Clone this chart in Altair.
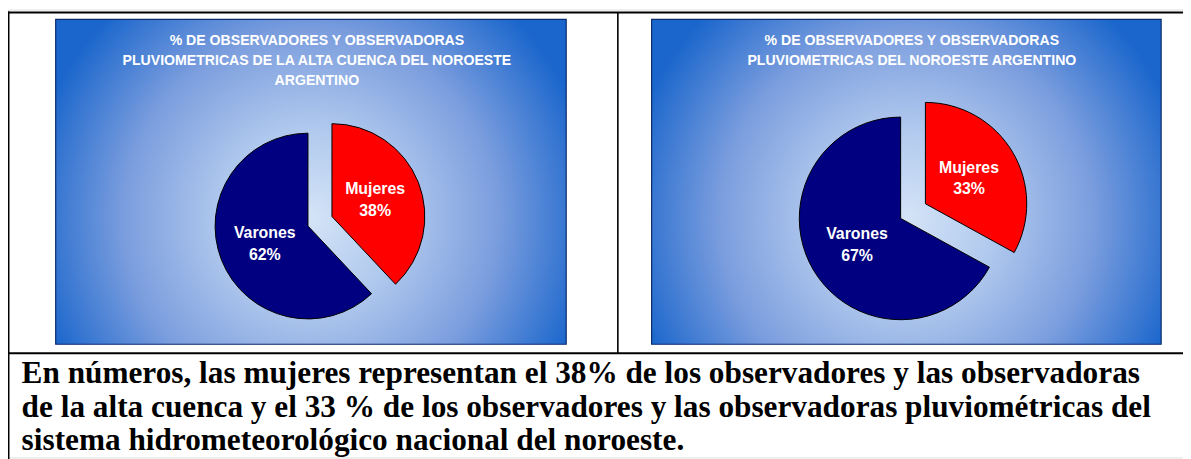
import altair as alt
import pandas as pd

# ---- data ----
categories = ["Mujeres", "Varones"]
alta_cuenca_pct = [38, 62]
noroeste_pct = [33, 67]
title_alta = ["% DE OBSERVADORES Y OBSERVADORAS",
              "PLUVIOMETRICAS DE LA ALTA CUENCA DEL NOROESTE",
              "ARGENTINO"]
title_noa = ["% DE OBSERVADORES Y OBSERVADORAS",
             "PLUVIOMETRICAS DEL NOROESTE ARGENTINO"]
paragraph = ["En números, las mujeres representan el 38% de los observadores y las observadoras",
             "de la alta cuenca y el 33 % de los observadores y las observadoras pluviométricas del",
             "sistema hidrometeorológico nacional del noroeste."]
slice_colors = ["#FF0000", "#000080"]
exploded = "Mujeres"

W, H = 1183, 451
one = pd.DataFrame({"k": [0]})

grad = alt.RadialGradient(
    gradient="radial", x1=0.5, y1=0.57, x2=0.5, y2=0.57, r1=0, r2=0.56,
    stops=[alt.GradientStop(color="#D4E4F7", offset=0),
           alt.GradientStop(color="#B2CAEE", offset=0.3),
           alt.GradientStop(color="#7C9EDE", offset=0.65),
           alt.GradientStop(color="#1A66CC", offset=1)])


def rule(x1, y1, x2, y2, w=2):
    return alt.Chart(one).mark_rule(color="black", strokeWidth=w).encode(
        x=alt.value(x1), y=alt.value(y1), x2=alt.value(x2), y2=alt.value(y2))


def panel(x1, x2):
    return alt.Chart(one).mark_rect(fill=grad, stroke="#0B2B6B", strokeWidth=1.2).encode(
        x=alt.value(x1), x2=alt.value(x2), y=alt.value(10), y2=alt.value(337))


def title(lines, cx):
    df = pd.DataFrame({"t": ["\n".join(lines)]})
    return alt.Chart(df).mark_text(
        lineBreak="\n", lineHeight=20, font="Liberation Sans", fontWeight="bold",
        fontSize=14.2, color="white", align="center", baseline="alphabetic"
    ).encode(text="t:N", x=alt.value(cx), y=alt.value(36))


def pie(values, cx, cy, r, explode):
    df = pd.DataFrame({"cat": categories, "value": values,
                       "order": list(range(len(values)))})
    base = alt.Chart(df).transform_joinaggregate(
        total="sum(value)"
    ).transform_window(
        cum="sum(value)", sort=[alt.SortField("order")], frame=[None, 0]
    ).transform_calculate(
        a0="2*PI*(datum.cum - datum.value)/datum.total",
        a1="2*PI*datum.cum/datum.total",
    ).transform_calculate(
        mid="(datum.a0 + datum.a1)/2",
        ex=f"datum.cat == '{exploded}' ? {explode} : 0",
    ).transform_calculate(
        px=f"{cx} + datum.ex*sin(datum.mid)",
        py=f"{cy} - datum.ex*cos(datum.mid)",
    ).transform_calculate(
        lx=f"datum.px + {0.5*r}*sin(datum.mid)",
        ly=f"datum.py - {0.5*r}*cos(datum.mid) - 5",
        label="datum.cat + '\\n' + datum.value + '%'",
    )
    arcs = base.mark_arc(radius=r, stroke="black", strokeWidth=1).encode(
        theta=alt.Theta("a0:Q", scale=None),
        theta2="a1:Q",
        x=alt.X("px:Q", scale=None),
        y=alt.Y("py:Q", scale=None),
        color=alt.Color("cat:N", scale=alt.Scale(domain=categories, range=slice_colors),
                        legend=None),
    )
    labels = base.mark_text(
        lineBreak="\n", lineHeight=21.5, font="Liberation Sans", fontWeight="bold",
        fontSize=16, color="white", align="center", baseline="alphabetic"
    ).encode(
        text="label:N",
        x=alt.X("lx:Q", scale=None),
        y=alt.Y("ly:Q", scale=None),
    )
    return arcs + labels


para_df = pd.DataFrame({"t": ["\n".join(paragraph)]})
para = alt.Chart(para_df).mark_text(
    lineBreak="\n", lineHeight=33.7, font="Liberation Serif", fontWeight="bold",
    fontSize=31.5, color="black", align="left", baseline="alphabetic"
).encode(text="t:N", x=alt.value(13.7), y=alt.value(376.3))

chart = alt.layer(
    panel(48, 562),
    panel(648, 1161),
    title(title_alta, 311),
    title(title_noa, 910),
    pie(alta_cuenca_pct, 302, 218, 93.5, 26),
    pie(noroeste_pct, 898.7, 210.3, 102, 29),
    rule(-2, 3, W + 5, 3),
    rule(0.5, 2, 0.5, H + 5),
    rule(614, 3, 614, 346, 1.6),
    rule(-2, 346, W + 5, 346),
    para,
).properties(
    width=W, height=H, padding=0, autosize=alt.AutoSizeParams(type="none"),
).configure_view(stroke=None).configure(background="white")

chart.save("out.html", embed_options={"renderer": "svg", "actions": False})
